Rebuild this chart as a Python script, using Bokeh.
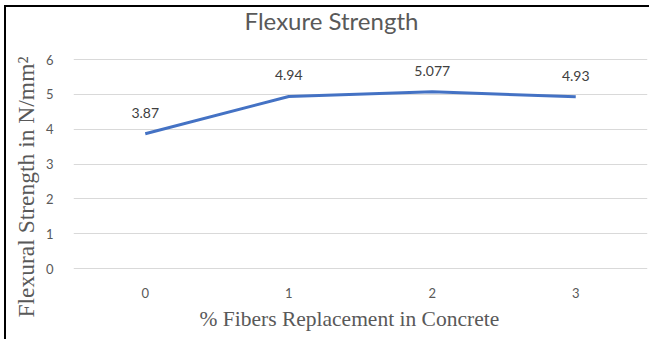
from bokeh.plotting import figure
from bokeh.models import Range1d, FactorRange, ColumnDataSource, LabelSet, Label, Title
from bokeh.core.properties import value
from bokeh.embed import file_html
from bokeh.resources import INLINE

categories = ["0", "1", "2", "3"]
strength = [3.87, 4.94, 5.077, 4.93]
labels = ["3.87", "4.94", "5.077", "4.93"]
y_ticks = [0, 1, 2, 3, 4, 5, 6]
title_text = "Flexure Strength"
x_title = "% Fibers Replacement in Concrete"
y_title = "Flexural Strength in N/mm²"

src = ColumnDataSource(dict(x=categories, y=strength, lab=labels))

p = figure(width=645, height=334, output_backend="svg", toolbar_location=None,
           x_range=FactorRange(*categories, range_padding=0), y_range=Range1d(-0.3445, 7.494),
           min_border_left=63, min_border_right=4, min_border_top=0, min_border_bottom=61)
p.styles = {"margin-left": "4px", "margin-top": "5px",
            "border-left": "2px solid #000000", "border-top": "2px solid #000000"}
p.outline_line_color = None
p.background_fill_color = "white"
p.border_fill_color = "white"

p.line(x="x", y="y", source=src, line_color="#4472C4", line_width=3)
p.add_layout(LabelSet(x="x", y="y", text="lab", source=src, y_offset=16, text_align="center",
                      text_baseline="bottom", text_font=value("Lato"), text_font_size="14px",
                      text_color="#404040"))

p.add_layout(Label(x=258, y=260, x_units="screen", y_units="screen", text=title_text,
                   text_align="center", text_baseline="middle", text_font="Lato",
                   text_font_size="24px", text_color="#595959"))

p.add_layout(Title(text=x_title, align="left", offset=126, standoff=8, vertical_align="bottom",
                   text_font="Liberation Serif", text_font_size="21.5px",
                   text_font_style="normal", text_color="#595959"), "below")
p.add_layout(Title(text=y_title, align="left", offset=-37, standoff=8, vertical_align="bottom",
                   text_font="Liberation Serif", text_font_size="23.5px",
                   text_font_style="normal", text_color="#595959"), "left")

p.xgrid.grid_line_color = None
p.ygrid.grid_line_color = "#D9D9D9"
p.ygrid.grid_line_width = 1
p.yaxis.ticker = y_ticks

for ax in (p.xaxis[0], p.yaxis[0]):
    ax.axis_line_color = None
    ax.major_tick_line_color = None
    ax.minor_tick_line_color = None
    ax.major_tick_out = 0
    ax.major_tick_in = 0
    ax.major_label_text_font = "Lato"
    ax.major_label_text_font_size = "13px"
    ax.major_label_text_color = "#595959"

p.yaxis.major_label_standoff = 20
p.xaxis.major_label_standoff = 7

open("out.html", "w").write(file_html(p, INLINE))
